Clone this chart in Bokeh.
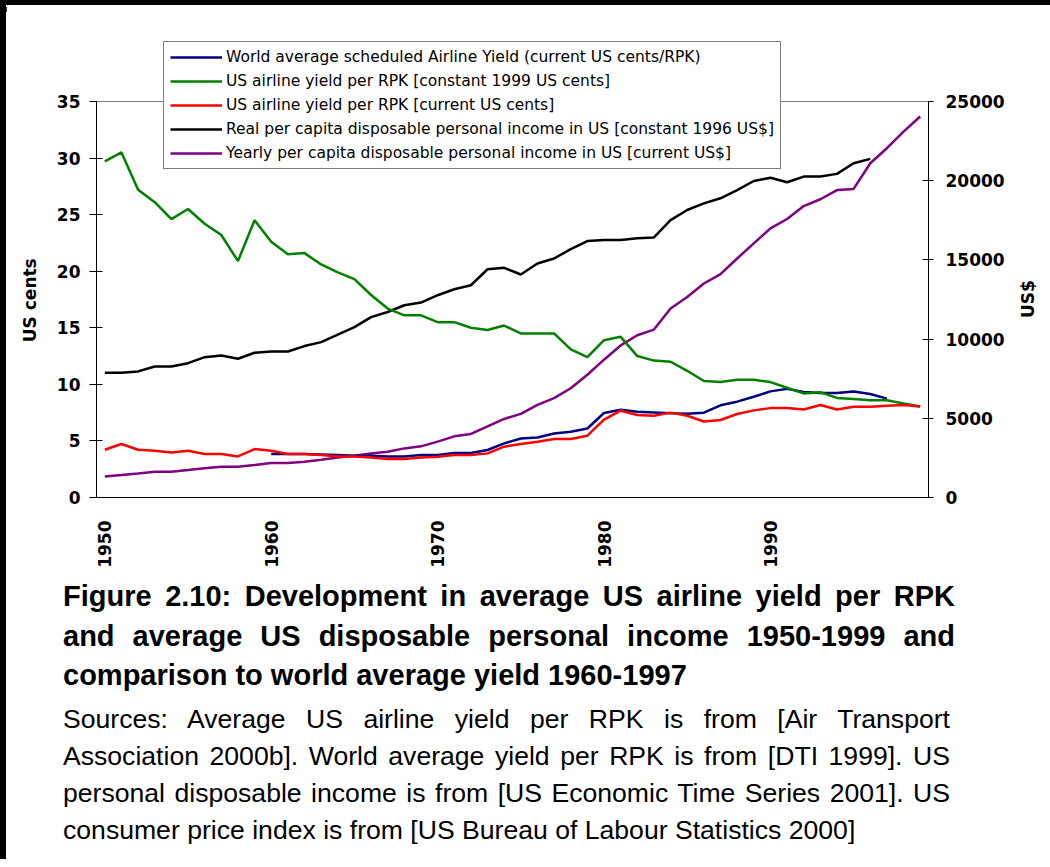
import math
from bokeh.plotting import figure
from bokeh.models import Range1d, LinearAxis, FixedTicker, Legend, LegendItem, Div, Span
from bokeh.layouts import column, row
from bokeh.embed import file_html
from bokeh.resources import INLINE

# ---------------- data ----------------
years = list(range(1950, 2000))
world_years = list(range(1960, 1998))
income_real_years = list(range(1950, 1997))

world_yield = [3.84, 3.84, 3.84, 3.80, 3.75, 3.70, 3.70, 3.63, 3.63, 3.75,
               3.75, 3.93, 3.93, 4.20, 4.78, 5.22, 5.31, 5.66, 5.81, 6.10,
               7.47, 7.76, 7.58, 7.52, 7.45, 7.40, 7.50, 8.15, 8.47, 8.90,
               9.38, 9.60, 9.32, 9.24, 9.24, 9.36, 9.15, 8.74]

us_yield_const = [29.7, 30.5, 27.2, 26.1, 24.6, 25.5, 24.2, 23.2, 20.9, 24.5,
                  22.6, 21.5, 21.6, 20.6, 19.9, 19.3, 17.9, 16.7, 16.1, 16.1,
                  15.5, 15.5, 15.0, 14.8, 15.2, 14.5, 14.5, 14.5, 13.1, 12.4,
                  13.9, 14.2, 12.5, 12.1, 12.0, 11.2, 10.3, 10.2, 10.4, 10.4,
                  10.2, 9.7, 9.2, 9.3, 8.8, 8.7, 8.6, 8.6, 8.3, 8.05]

us_yield_curr = [4.22, 4.73, 4.22, 4.13, 3.98, 4.13, 3.84, 3.84, 3.63, 4.28,
                 4.13, 3.84, 3.84, 3.75, 3.63, 3.63, 3.54, 3.40, 3.40, 3.54,
                 3.60, 3.75, 3.75, 3.90, 4.49, 4.72, 4.93, 5.17, 5.17, 5.46,
                 6.88, 7.67, 7.29, 7.23, 7.50, 7.23, 6.72, 6.85, 7.38, 7.70,
                 7.90, 7.91, 7.78, 8.18, 7.78, 8.02, 8.03, 8.11, 8.18, 8.05]

income_real = [7870, 7870, 7960, 8270, 8270, 8480, 8860, 8970, 8760, 9140,
               9220, 9220, 9560, 9810, 10280, 10760, 11390, 11710, 12135, 12305,
               12770, 13150, 13400, 14410, 14500, 14080, 14770, 15090, 15680, 16190,
               16250, 16250, 16360, 16420, 17515, 18150, 18570, 18890, 19410, 19980,
               20190, 19900, 20260, 20260, 20430, 21100, 21380]

income_curr = [1330, 1420, 1520, 1630, 1630, 1730, 1840, 1940, 1940, 2050,
               2180, 2180, 2260, 2390, 2530, 2640, 2780, 2890, 3100, 3230,
               3530, 3860, 4010, 4490, 4960, 5280, 5850, 6270, 6900, 7750,
               8700, 9600, 10240, 10600, 11930, 12660, 13510, 14100, 15090, 16040,
               16990, 17580, 18400, 18830, 19410, 19480, 21100, 22050, 23100, 24050]

x_ticks = [1950, 1960, 1970, 1980, 1990]
left_ticks = [0, 5, 10, 15, 20, 25, 30, 35]
right_ticks = [0, 5000, 10000, 15000, 20000, 25000]

labels = [
    "World average scheduled Airline Yield (current US cents/RPK)",
    "US airline yield per RPK [constant 1999 US cents]",
    "US airline yield per RPK [current US cents]",
    "Real per capita disposable personal income in US [constant 1996 US$]",
    "Yearly per capita disposable personal income in US [current US$]",
]
colors = ["#000080", "#008000", "#FF0000", "#000000", "#800080"]

FONT = "DejaVu Sans"
NBSP = "\u00a0"

# ---------------- layout geometry (pixels) ----------------
LEFT_MAX, RIGHT_MAX = 35, 25000
PLOT_H = 396        # px from value 0 up to the top tick
EXTRA_TOP = 61      # frame above the top tick (room for the legend)
EXTRA_BOTTOM = 98   # frame below value 0 (x axis is pinned at 0)
left_start = -LEFT_MAX * EXTRA_BOTTOM / PLOT_H
left_end = LEFT_MAX * (PLOT_H + EXTRA_TOP) / PLOT_H
right_start = -RIGHT_MAX * EXTRA_BOTTOM / PLOT_H
right_end = RIGHT_MAX * (PLOT_H + EXTRA_TOP) / PLOT_H

FIG_H = 35 + EXTRA_TOP + PLOT_H + EXTRA_BOTTOM + 72
p = figure(width=1044, height=FIG_H,
           x_range=Range1d(1949.5, 1999.5), y_range=Range1d(left_start, left_end),
           output_backend="svg", toolbar_location=None,
           min_border_left=90, min_border_right=117,
           min_border_top=35, min_border_bottom=72)
p.extra_y_ranges = {"usd": Range1d(right_start, right_end)}
p.grid.visible = False
p.outline_line_color = None
p.background_fill_color = "white"
p.border_fill_color = "white"

xa = p.xaxis[0]
xa.fixed_location = 0
xa.ticker = FixedTicker(ticks=x_ticks)
xa.major_tick_out = 0
xa.major_tick_in = 0
xa.minor_tick_out = 0
xa.minor_tick_in = 0
xa.major_label_orientation = math.pi / 2
xa.major_label_standoff = 23
xa.axis_line_color = "black"
xa.major_label_text_font = FONT
xa.major_label_text_font_style = "bold"
xa.major_label_text_font_size = "17px"
xa.major_label_text_color = "black"

ya = p.yaxis[0]
ya.ticker = FixedTicker(ticks=left_ticks)
ya.bounds = (0, LEFT_MAX)
ya.major_tick_out = 7
ya.major_tick_in = 6
ya.minor_tick_out = 0
ya.minor_tick_in = 0
ya.major_label_standoff = 9
ya.axis_line_color = "black"
ya.major_tick_line_color = "black"
ya.major_label_text_font = FONT
ya.major_label_text_font_style = "bold"
ya.major_label_text_font_size = "17px"
ya.major_label_text_color = "black"
ya.axis_label = NBSP * 6 + "US cents"
ya.axis_label_standoff = 14
ya.axis_label_text_font = FONT
ya.axis_label_text_font_style = "bold"
ya.axis_label_text_font_size = "17px"
ya.axis_label_text_color = "black"

ra = LinearAxis(y_range_name="usd", ticker=FixedTicker(ticks=right_ticks))
ra.bounds = (0, RIGHT_MAX)
ra.major_tick_out = 5
ra.major_tick_in = 6
ra.minor_tick_out = 0
ra.minor_tick_in = 0
ra.major_label_standoff = 12
ra.axis_line_color = "black"
ra.major_tick_line_color = "black"
ra.major_label_text_font = FONT
ra.major_label_text_font_style = "bold"
ra.major_label_text_font_size = "17px"
ra.major_label_text_color = "black"
ra.axis_label = "US$"
ra.axis_label_standoff = 20
ra.axis_label_text_font = FONT
ra.axis_label_text_font_style = "bold"
ra.axis_label_text_font_size = "17px"
ra.axis_label_text_color = "black"
try:
    ra.axis_label_orientation = math.pi / 2
except Exception:
    pass
p.add_layout(ra, "right")

# top border of the plot area (grey line at the top tick)
p.add_layout(Span(location=LEFT_MAX, dimension="width", line_color="#808080", line_width=1))

r_real = p.line(income_real_years, income_real, color=colors[3], line_width=2.5, y_range_name="usd")
r_curr_inc = p.line(years, income_curr, color=colors[4], line_width=2.5, y_range_name="usd")
r_world = p.line(world_years, world_yield, color=colors[0], line_width=2.5)
r_const = p.line(years, us_yield_const, color=colors[1], line_width=2.5)
r_curr = p.line(years, us_yield_curr, color=colors[2], line_width=2.5)

legend = Legend(items=[
    LegendItem(label=labels[0], renderers=[r_world]),
    LegendItem(label=labels[1], renderers=[r_const]),
    LegendItem(label=labels[2], renderers=[r_curr]),
    LegendItem(label=labels[3], renderers=[r_real]),
    LegendItem(label=labels[4], renderers=[r_curr_inc]),
], location=(67, 328 + EXTRA_BOTTOM))
legend.label_text_font = FONT
legend.label_text_font_size = "15.5px"
legend.label_text_color = "black"
legend.padding = 6
legend.spacing = 6
legend.margin = 0
legend.glyph_width = 52
legend.glyph_height = 18
legend.label_height = 18
legend.label_standoff = 4
legend.border_line_color = "black"
legend.border_line_width = 1
legend.background_fill_color = "white"
legend.background_fill_alpha = 1.0
p.add_layout(legend)

title_txt = ("Figure 2.10: Development in average US airline yield per RPK "
             "and average US disposable personal income 1950-1999 and "
             "comparison to world average yield 1960-1997")
source_txt = ("Sources: Average US airline yield per RPK is from [Air Transport "
              "Association 2000b]. World average yield per RPK is from [DTI 1999]. US "
              "personal disposable income is from [US Economic Time Series 2001]. US "
              "consumer price index is from [US Bureau of Labour Statistics 2000]")

html = (
    '<div style="box-sizing:content-box;margin:0 0 0 57px;padding:5px 0 0 0;width:892px;'
    'font-family:Liberation Sans,Arial,sans-serif;color:#000;">'
    '<div style="box-sizing:content-box;width:892px;font-weight:bold;font-size:29px;'
    'line-height:39.5px;text-align:justify;margin:0;padding:0;">'
    + title_txt +
    '</div>'
    '<div style="box-sizing:content-box;width:887px;font-weight:normal;font-size:26.6px;'
    'line-height:37px;text-align:justify;margin:5.7px 0 0 0;padding:0;">'
    + source_txt +
    '</div></div>'
)
overlap = FIG_H - 567
caption = Div(text=html, width=1040, height=287, margin=0,
              styles={"font-family": "Liberation Sans, Arial, sans-serif", "color": "black",
                      "margin-top": "-%dpx" % overlap})

top_bar = Div(text='<div style="width:1050px;height:5px;background:#000;"></div>',
              width=1050, height=5, margin=0, styles={"background-color": "black"})
left_bar = Div(text='<div style="width:6px;height:854px;background:#000;"></div>',
               width=6, height=854, margin=0, styles={"background-color": "black"})

layout = column(top_bar, row(left_bar, column(p, caption, spacing=0), spacing=0),
                spacing=0)

open("out.html", "w").write(file_html(layout, INLINE, "Figure 2.10"))
